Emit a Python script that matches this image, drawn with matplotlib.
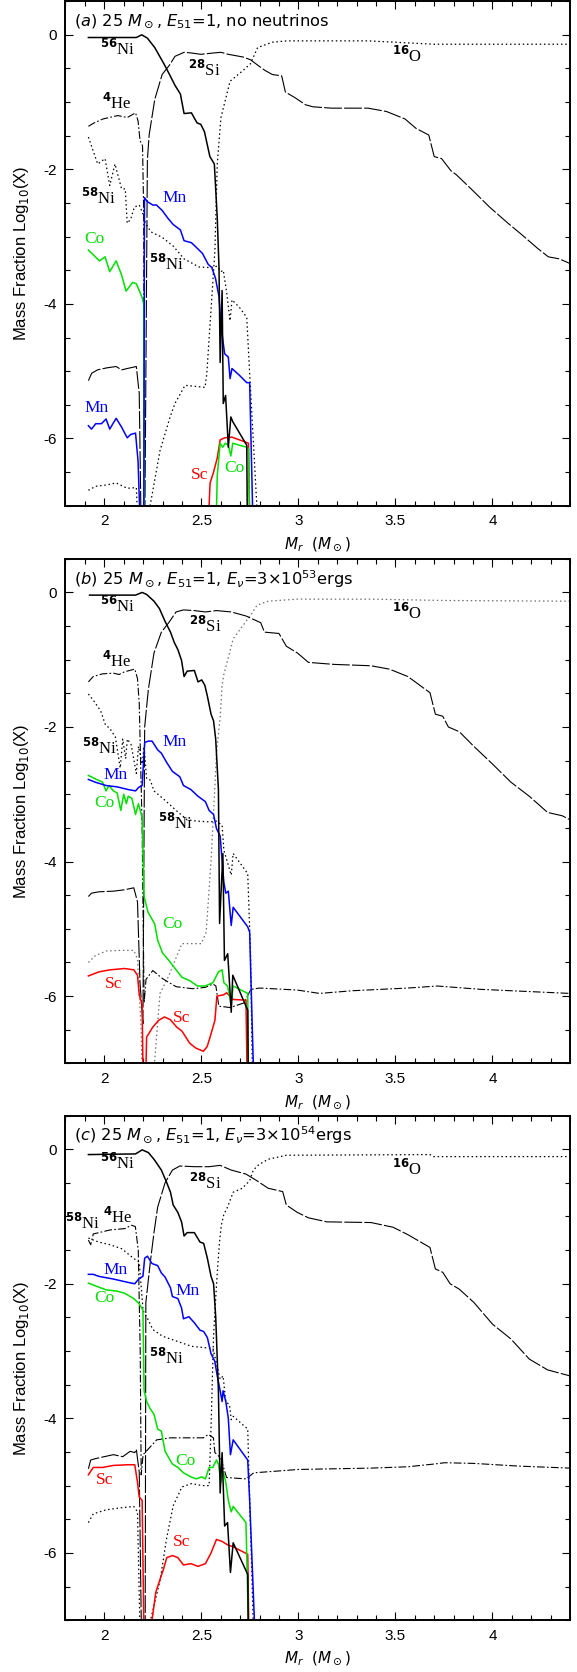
import matplotlib
matplotlib.use('Agg')
import matplotlib.pyplot as plt
from matplotlib.ticker import MultipleLocator, FuncFormatter

plt.rcParams['axes.unicode_minus'] = False
plt.rcParams['mathtext.fontset'] = 'dejavusans'

LOW = -8.0  # below the plotted range

# ---------------- Panel (a): no neutrinos ----------------
a_ni56_x = [1.918, 2.165, 2.193, 2.222, 2.26, 2.307, 2.336, 2.364, 2.392, 2.411, 2.449, 2.478, 2.497, 2.516, 2.544, 2.567, 2.573, 2.582, 2.591, 2.597, 2.607, 2.613, 2.625, 2.639, 2.652, 2.662, 2.734, 2.739]
a_ni56_y = [-0.04, -0.04, 0.0, -0.05, -0.19, -0.43, -0.59, -0.75, -0.88, -1.17, -1.16, -1.31, -1.33, -1.44, -1.81, -1.92, -2.24, -2.72, -3.46, -4.87, -3.8, -5.48, -5.36, -6.13, -5.68, -5.75, -6.1, LOW]
a_si28_x = [1.918, 1.935, 1.965, 2.013, 2.061, 2.089, 2.118, 2.165, 2.18, 2.193, 2.207, 2.222, 2.231, 2.26, 2.298, 2.336, 2.364, 2.411, 2.449, 2.497, 2.563, 2.601, 2.639, 2.715, 2.753, 2.79, 2.828, 2.866, 2.914, 2.933, 2.98, 3.037, 3.075, 3.17, 3.359, 3.454, 3.549, 3.606, 3.672, 3.7, 3.738, 3.786, 3.814, 3.89, 3.985, 4.08, 4.155, 4.231, 4.288, 4.345, 4.4]
a_si28_y = [-5.14, -5.03, -4.98, -4.95, -4.93, -4.98, -4.96, -4.93, -5.33, LOW, LOW, -1.86, -1.49, -0.96, -0.59, -0.45, -0.32, -0.26, -0.27, -0.29, -0.27, -0.26, -0.29, -0.33, -0.37, -0.45, -0.53, -0.59, -0.61, -0.85, -0.93, -1.04, -1.07, -1.09, -1.09, -1.14, -1.25, -1.39, -1.49, -1.81, -1.84, -2.02, -2.08, -2.29, -2.56, -2.8, -2.98, -3.17, -3.3, -3.33, -3.4]
a_o16_x = [1.918, 1.956, 2.013, 2.061, 2.118, 2.165, 2.184, 2.236, 2.287, 2.339, 2.364, 2.416, 2.519, 2.528, 2.553, 2.57, 2.582, 2.601, 2.648, 2.715, 2.753, 2.79, 2.866, 2.942, 3.359, 3.7, 4.4]
a_o16_y = [-6.77, -6.71, -6.69, -6.66, -6.74, -6.73, LOW, -7.0, -6.18, -5.68, -5.48, -5.21, -5.24, -5.04, -3.95, -3.2, -1.92, -1.23, -0.69, -0.53, -0.43, -0.19, -0.11, -0.09, -0.09, -0.14, -0.14]
a_he4_x = [1.918, 1.947, 1.994, 2.07, 2.118, 2.161, 2.174, 2.184, 2.197, 2.203, 2.207]
a_he4_y = [-1.36, -1.31, -1.25, -1.2, -1.23, -1.16, -1.28, -1.57, -1.65, -2.66, LOW]
a_ni58_x = [1.918, 1.966, 2.004, 2.028, 2.055, 2.089, 2.108, 2.118, 2.136, 2.155, 2.18, 2.199, 2.212, 2.241, 2.298, 2.355, 2.411, 2.487, 2.544, 2.582, 2.601, 2.613, 2.63, 2.648, 2.658, 2.696, 2.734, 2.75, 2.786, 2.79]
a_ni58_y = [-1.52, -1.92, -1.84, -2.24, -1.92, -2.29, -2.29, -2.8, -2.74, -2.56, -2.53, -2.66, -2.8, -2.93, -3.01, -3.14, -3.33, -3.45, -3.46, -3.44, -3.52, -3.5, -3.82, -4.25, -3.94, -4.05, -4.2, -5.09, -7.0, LOW]
a_mn_x = [1.918, 1.934, 1.956, 1.985, 2.009, 2.028, 2.061, 2.089, 2.118, 2.136, 2.161, 2.174, 2.193, 2.203, 2.207, 2.222, 2.25, 2.269, 2.298, 2.326, 2.355, 2.392, 2.411, 2.449, 2.478, 2.506, 2.535, 2.554, 2.573, 2.591, 2.601, 2.62, 2.639, 2.648, 2.658, 2.696, 2.734, 2.749, 2.772]
a_mn_y = [-5.81, -5.86, -5.78, -5.78, -5.71, -5.86, -5.7, -5.83, -5.99, -5.94, -5.92, -6.34, LOW, LOW, -2.42, -2.48, -2.53, -2.53, -2.61, -2.72, -2.82, -2.9, -3.06, -3.09, -3.17, -3.25, -3.41, -3.46, -3.62, -3.89, -4.32, -4.74, -4.79, -5.11, -4.96, -5.06, -5.17, -5.17, LOW]
a_co_x = [1.918, 1.947, 1.975, 2.004, 2.028, 2.061, 2.089, 2.112, 2.146, 2.165, 2.193, 2.203, 2.207, 2.571, 2.582, 2.597, 2.61, 2.624, 2.639, 2.652, 2.662, 2.696, 2.734, 2.743, 2.753]
a_co_y = [-3.2, -3.28, -3.36, -3.3, -3.52, -3.36, -3.57, -3.81, -3.68, -3.7, -3.89, -4.0, LOW, LOW, -6.55, -6.07, -6.13, -6.07, -6.1, -6.26, -6.07, -6.1, -6.13, -6.15, LOW]
a_sc_x = [2.525, 2.545, 2.563, 2.582, 2.597, 2.62, 2.658, 2.696, 2.743, 2.753]
a_sc_y = [LOW, -6.66, -6.5, -6.29, -6.02, -5.99, -5.98, -6.02, -6.07, LOW]

# ---------------- Panel (b): E_nu = 3e53 erg ----------------
b_ni56_x = [1.924, 2.161, 2.195, 2.218, 2.256, 2.284, 2.313, 2.341, 2.36, 2.379, 2.398, 2.411, 2.427, 2.464, 2.483, 2.502, 2.518, 2.531, 2.55, 2.563, 2.574, 2.582, 2.588, 2.594, 2.611, 2.619, 2.636, 2.654, 2.662, 2.739, 2.744]
b_ni56_y = [-0.04, -0.04, 0.0, -0.03, -0.13, -0.24, -0.43, -0.59, -0.74, -0.85, -1.01, -1.25, -1.17, -1.16, -1.33, -1.3, -1.38, -1.54, -1.81, -1.91, -2.18, -2.61, -2.93, -4.92, -3.88, -5.47, -5.37, -6.24, -5.69, -6.21, LOW]
b_si28_x = [1.918, 1.934, 1.972, 2.047, 2.104, 2.152, 2.171, 2.184, 2.199, 2.208, 2.227, 2.256, 2.294, 2.332, 2.37, 2.408, 2.464, 2.521, 2.578, 2.654, 2.73, 2.806, 2.825, 2.9, 2.938, 2.995, 3.052, 3.185, 3.374, 3.469, 3.564, 3.678, 3.706, 3.744, 3.773, 3.829, 3.905, 4.0, 4.095, 4.19, 4.284, 4.36, 4.4]
b_si28_y = [-4.52, -4.47, -4.45, -4.44, -4.42, -4.39, -4.6, -5.8, -6.41, -2.0, -1.44, -0.9, -0.59, -0.45, -0.29, -0.26, -0.27, -0.29, -0.27, -0.29, -0.35, -0.45, -0.59, -0.61, -0.8, -0.9, -1.04, -1.07, -1.09, -1.14, -1.25, -1.49, -1.81, -1.84, -2.0, -2.07, -2.29, -2.55, -2.82, -3.03, -3.27, -3.32, -3.38]
b_o16_x = [1.918, 1.953, 2.009, 2.085, 2.152, 2.171, 2.19, 2.199, 2.231, 2.287, 2.33, 2.4, 2.5, 2.525, 2.55, 2.569, 2.578, 2.597, 2.607, 2.616, 2.654, 2.664, 2.73, 2.758, 2.787, 2.844, 2.995, 3.374, 3.754, 4.4]
b_o16_y = [-5.5, -5.4, -5.33, -5.32, -5.32, -5.45, -6.5, LOW, LOW, -5.96, -5.71, -5.22, -5.22, -5.05, -3.99, -2.93, -2.39, -1.86, -1.38, -1.22, -0.8, -0.69, -0.43, -0.32, -0.19, -0.13, -0.1, -0.1, -0.12, -0.13]
b_he4_x = [1.918, 1.943, 1.991, 2.047, 2.076, 2.104, 2.157, 2.171, 2.18, 2.195, 2.205, 2.215, 2.25, 2.3, 2.37, 2.456, 2.52, 2.56, 2.575, 2.59, 2.65, 2.72, 2.755, 2.8, 2.995, 3.109, 3.28, 3.564, 3.716, 3.943, 4.4]
b_he4_y = [-1.33, -1.25, -1.21, -1.2, -1.22, -1.18, -1.14, -1.28, -1.65, -3.5, -6.1, -5.75, -5.62, -5.74, -5.86, -5.89, -5.87, -5.82, -5.85, -6.15, -6.17, -6.1, -5.9, -5.88, -5.91, -5.96, -5.92, -5.88, -5.85, -5.9, -5.96]
b_ni58_x = [1.918, 1.943, 1.981, 2.006, 2.028, 2.057, 2.082, 2.095, 2.11, 2.119, 2.138, 2.165, 2.176, 2.195, 2.205, 2.218, 2.237, 2.256, 2.313, 2.37, 2.427, 2.483, 2.54, 2.578, 2.607, 2.616, 2.654, 2.664, 2.739, 2.753, 2.768]
b_ni58_y = [-1.51, -1.6, -1.76, -1.97, -2.02, -2.15, -2.61, -2.18, -2.47, -2.18, -2.26, -2.69, -2.29, -2.55, -2.29, -2.77, -2.79, -2.95, -3.09, -3.24, -3.38, -3.4, -3.41, -3.4, -3.46, -3.83, -4.2, -3.88, -4.18, -5.32, LOW]
b_mn_x = [1.918, 1.953, 2.009, 2.066, 2.123, 2.161, 2.176, 2.195, 2.208, 2.227, 2.246, 2.275, 2.294, 2.322, 2.351, 2.389, 2.408, 2.446, 2.483, 2.521, 2.54, 2.563, 2.578, 2.597, 2.607, 2.616, 2.626, 2.639, 2.654, 2.664, 2.739, 2.749, 2.777]
b_mn_y = [-2.78, -2.82, -2.87, -2.89, -2.93, -2.95, -2.9, -2.87, -2.23, -2.21, -2.21, -2.34, -2.39, -2.53, -2.66, -2.74, -2.87, -2.93, -3.03, -3.11, -3.24, -3.3, -3.51, -3.62, -3.99, -4.31, -4.47, -4.44, -4.95, -4.68, -4.97, -5.05, LOW]
b_co_x = [1.918, 1.953, 1.991, 2.009, 2.025, 2.047, 2.066, 2.085, 2.1, 2.114, 2.123, 2.142, 2.161, 2.176, 2.195, 2.205, 2.225, 2.26, 2.275, 2.3, 2.33, 2.373, 2.4, 2.44, 2.48, 2.52, 2.56, 2.588, 2.607, 2.616, 2.635, 2.654, 2.664, 2.739, 2.745]
b_co_y = [-2.72, -2.77, -2.82, -2.95, -2.87, -2.95, -2.98, -3.24, -3.0, -3.14, -3.03, -3.06, -3.3, -3.14, -3.35, -4.52, -4.75, -4.93, -5.17, -5.36, -5.46, -5.62, -5.72, -5.77, -5.85, -5.85, -5.8, -5.64, -5.61, -5.8, -5.85, -6.12, -5.85, -5.96, LOW]
b_sc_x = [1.918, 1.972, 2.028, 2.104, 2.152, 2.171, 2.18, 2.195, 2.203, 2.208, 2.218, 2.25, 2.28, 2.31, 2.34, 2.373, 2.4, 2.44, 2.47, 2.51, 2.53, 2.545, 2.57, 2.58, 2.616, 2.63, 2.664, 2.73, 2.74]
b_sc_y = [-5.7, -5.64, -5.61, -5.59, -5.61, -5.69, -5.98, -6.12, LOW, LOW, -6.61, -6.46, -6.36, -6.31, -6.35, -6.46, -6.52, -6.7, -6.77, -6.82, -6.75, -6.61, -6.36, -6.0, -5.98, -5.95, -6.05, -6.06, LOW]

# ---------------- Panel (c): E_nu = 3e54 erg ----------------
c_ni56_x = [1.918, 2.161, 2.195, 2.227, 2.256, 2.294, 2.322, 2.341, 2.355, 2.379, 2.398, 2.411, 2.427, 2.464, 2.493, 2.512, 2.531, 2.55, 2.563, 2.574, 2.588, 2.597, 2.607, 2.62, 2.635, 2.65, 2.664, 2.739, 2.745]
c_ni56_y = [-0.08, -0.07, -0.01, -0.05, -0.15, -0.31, -0.5, -0.64, -0.83, -0.94, -1.08, -1.29, -1.24, -1.24, -1.38, -1.4, -1.62, -1.89, -2.0, -2.49, -3.59, -5.11, -4.51, -5.6, -5.55, -6.29, -5.85, -6.32, LOW]
c_si28_x = [1.918, 1.93, 1.953, 2.047, 2.095, 2.133, 2.157, 2.165, 2.18, 2.195, 2.21, 2.214, 2.237, 2.256, 2.275, 2.313, 2.351, 2.389, 2.464, 2.54, 2.597, 2.654, 2.73, 2.787, 2.844, 2.919, 2.938, 2.995, 3.052, 3.147, 3.374, 3.488, 3.564, 3.678, 3.706, 3.744, 3.782, 3.829, 3.905, 4.0, 4.095, 4.19, 4.284, 4.4]
c_si28_y = [-4.75, -4.62, -4.6, -4.54, -4.57, -4.49, -4.51, -4.46, -4.8, LOW, LOW, -2.28, -1.68, -1.24, -0.86, -0.5, -0.31, -0.25, -0.26, -0.26, -0.24, -0.31, -0.37, -0.47, -0.58, -0.63, -0.83, -0.94, -1.02, -1.08, -1.09, -1.16, -1.27, -1.46, -1.78, -1.83, -2.0, -2.08, -2.28, -2.6, -2.82, -3.12, -3.28, -3.37]
c_o16_x = [1.918, 1.943, 2.009, 2.085, 2.152, 2.171, 2.19, 2.238, 2.288, 2.32, 2.355, 2.4, 2.45, 2.505, 2.54, 2.55, 2.563, 2.574, 2.582, 2.593, 2.603, 2.616, 2.635, 2.664, 2.711, 2.749, 2.768, 2.796, 2.844, 2.938, 3.678, 3.697, 4.4]
c_o16_y = [-5.55, -5.42, -5.36, -5.33, -5.31, -5.39, LOW, -7.0, -6.4, -5.8, -5.3, -5.02, -4.97, -5.0, -5.0, -4.13, -2.77, -2.22, -1.84, -1.4, -1.13, -0.97, -0.86, -0.64, -0.58, -0.47, -0.31, -0.23, -0.15, -0.09, -0.08, -0.11, -0.11]
c_he4_x = [1.918, 1.93, 1.943, 2.03, 2.106, 2.14, 2.16, 2.175, 2.185, 2.19, 2.2, 2.27, 2.34, 2.51, 2.536, 2.562, 2.57, 2.6, 2.63, 2.73, 2.77, 2.91, 3.0, 3.185, 3.374, 3.564, 3.697, 3.754, 3.905, 4.133, 4.4]
c_he4_y = [-1.35, -1.42, -1.26, -1.2, -1.18, -1.13, -1.15, -1.5, -3.0, -4.84, -4.54, -4.32, -4.29, -4.29, -4.24, -4.29, -4.51, -4.59, -4.88, -4.9, -4.81, -4.78, -4.76, -4.75, -4.74, -4.72, -4.68, -4.66, -4.67, -4.71, -4.74]
c_ni58_x = [1.918, 1.97, 2.03, 2.09, 2.15, 2.18, 2.2, 2.22, 2.25, 2.3, 2.37, 2.45, 2.52, 2.56, 2.597, 2.612, 2.626, 2.645, 2.654, 2.664, 2.739, 2.749, 2.777]
c_ni58_y = [-1.32, -1.38, -1.42, -1.48, -1.62, -1.68, -2.4, -2.5, -2.68, -2.78, -2.85, -2.93, -2.95, -2.96, -3.42, -3.37, -3.75, -3.8, -4.02, -3.97, -4.16, -5.2, LOW]
c_mn_x = [1.918, 1.943, 1.972, 2.047, 2.123, 2.157, 2.18, 2.199, 2.208, 2.222, 2.246, 2.275, 2.294, 2.313, 2.341, 2.351, 2.379, 2.398, 2.408, 2.436, 2.464, 2.493, 2.512, 2.531, 2.55, 2.569, 2.582, 2.597, 2.607, 2.612, 2.626, 2.639, 2.65, 2.664, 2.739, 2.749, 2.787]
c_mn_y = [-1.86, -1.86, -1.89, -1.93, -1.98, -2.0, -1.92, -1.89, -1.62, -1.59, -1.7, -1.73, -1.84, -1.9, -2.06, -2.19, -2.22, -2.36, -2.52, -2.49, -2.58, -2.69, -2.71, -2.8, -3.04, -3.15, -3.37, -3.59, -3.75, -3.59, -3.75, -4.0, -4.54, -4.32, -4.62, -5.22, LOW]
c_co_x = [1.918, 1.953, 2.009, 2.066, 2.104, 2.152, 2.18, 2.199, 2.205, 2.218, 2.237, 2.256, 2.275, 2.294, 2.313, 2.351, 2.379, 2.408, 2.446, 2.474, 2.502, 2.521, 2.54, 2.559, 2.578, 2.588, 2.601, 2.612, 2.626, 2.639, 2.654, 2.664, 2.73, 2.75]
c_co_y = [-1.99, -2.03, -2.09, -2.11, -2.14, -2.22, -2.3, -2.39, -3.59, -3.75, -3.86, -3.94, -4.16, -4.19, -4.49, -4.68, -4.73, -4.81, -4.87, -4.9, -4.87, -4.9, -4.73, -4.73, -4.62, -4.68, -4.95, -4.79, -4.95, -5.22, -5.39, -5.31, -5.55, LOW]
c_sc_x = [1.918, 1.943, 1.991, 2.047, 2.123, 2.157, 2.171, 2.18, 2.195, 2.208, 2.24, 2.246, 2.265, 2.284, 2.303, 2.322, 2.351, 2.379, 2.408, 2.446, 2.483, 2.521, 2.55, 2.578, 2.607, 2.635, 2.664, 2.739, 2.749]
c_sc_y = [-4.84, -4.73, -4.73, -4.7, -4.69, -4.69, -4.95, -5.17, -5.22, LOW, LOW, -7.0, -6.59, -6.42, -6.26, -6.07, -6.04, -6.07, -6.18, -6.16, -6.2, -6.16, -6.0, -5.8, -5.83, -5.88, -5.91, -6.02, LOW]

titles = [r'($a$) 25 $M_\odot$, $E_{51}$=1, no neutrinos',
          r'($b$) 25 $M_\odot$, $E_{51}$=1, $E_\nu$=3$\times$10$^{53}$ergs',
          r'($c$) 25 $M_\odot$, $E_{51}$=1, $E_\nu$=3$\times$10$^{54}$ergs']

panels = [
    dict(ni56=(a_ni56_x, a_ni56_y), si28=(a_si28_x, a_si28_y), o16=(a_o16_x, a_o16_y),
         he4=(a_he4_x, a_he4_y), ni58=(a_ni58_x, a_ni58_y), mn=(a_mn_x, a_mn_y),
         co=(a_co_x, a_co_y), sc=(a_sc_x, a_sc_y)),
    dict(ni56=(b_ni56_x, b_ni56_y), si28=(b_si28_x, b_si28_y), o16=(b_o16_x, b_o16_y),
         he4=(b_he4_x, b_he4_y), ni58=(b_ni58_x, b_ni58_y), mn=(b_mn_x, b_mn_y),
         co=(b_co_x, b_co_y), sc=(b_sc_x, b_sc_y)),
    dict(ni56=(c_ni56_x, c_ni56_y), si28=(c_si28_x, c_si28_y), o16=(c_o16_x, c_o16_y),
         he4=(c_he4_x, c_he4_y), ni58=(c_ni58_x, c_ni58_y), mn=(c_mn_x, c_mn_y),
         co=(c_co_x, c_co_y), sc=(c_sc_x, c_sc_y)),
]

BLUE, GREEN, RED = '#0000ff', '#00e000', '#ff0000'
s56, s28, s16, s4, s58 = r'$^{\mathbf{56}}$Ni', r'$^{\mathbf{28}}$Si', r'$^{\mathbf{16}}$O', r'$^{\mathbf{4}}$He', r'$^{\mathbf{58}}$Ni'
labels = [
    [(s56, 2.07, -0.21, 'k'), (s28, 2.515, -0.52, 'k'), (s16, 3.56, -0.31, 'k'), (s4, 2.066, -1.02, 'k'),
     (s58, 1.97, -2.42, 'k'), ('Mn', 2.36, -2.42, BLUE), ('Co', 1.95, -3.03, GREEN), (s58, 2.32, -3.41, 'k'),
     ('Mn', 1.96, -5.54, BLUE), ('Sc', 2.49, -6.54, RED), ('Co', 2.67, -6.44, GREEN)],
    [(s56, 2.07, -0.2, 'k'), (s28, 2.52, -0.5, 'k'), (s16, 3.56, -0.31, 'k'), (s4, 2.066, -1.02, 'k'),
     (s58, 1.975, -2.31, 'k'), ('Mn', 2.36, -2.22, BLUE), ('Mn', 2.057, -2.71, BLUE), ('Co', 2.0, -3.13, GREEN),
     (s58, 2.37, -3.42, 'k'), ('Co', 2.35, -4.93, GREEN), ('Sc', 2.047, -5.82, RED), ('Sc', 2.4, -6.33, RED)],
    [(s56, 2.07, -0.2, 'k'), (s28, 2.52, -0.5, 'k'), (s16, 3.56, -0.3, 'k'), (s58, 1.89, -1.09, 'k'),
     (s4, 2.07, -1.0, 'k'), ('Mn', 2.057, -1.8, BLUE), ('Mn', 2.43, -2.11, BLUE), ('Co', 2.0, -2.21, GREEN),
     (s58, 2.32, -3.1, 'k'), ('Co', 2.42, -4.63, GREEN), ('Sc', 2.0, -4.92, RED), ('Sc', 2.4, -5.84, RED)],
]

fig = plt.figure(figsize=(5.77, 16.72), dpi=100)
bottoms = [0.6975, 0.3640, 0.0310]
H = 0.3018
L, W = 0.1135, 0.8745

for i, (p, b) in enumerate(zip(panels, bottoms)):
    ax = fig.add_axes([L, b, W, H])
    o16_color = '#707070' if i == 1 else 'k'
    ax.plot(*p['o16'], color=o16_color, lw=0.9, ls=(0, (1.2, 2.2)))
    ax.plot(*p['ni58'], color='k', lw=0.9, ls=(0, (1.2, 2.2)))
    ax.plot(*p['he4'], color='k', lw=0.8, ls=(0, (7, 2, 1.5, 2)))
    ax.plot(*p['si28'], color='k', lw=0.8, ls=(0, (16, 2)))
    ax.plot(*p['sc'], color=RED, lw=1.1)
    ax.plot(*p['co'], color=GREEN, lw=1.1)
    ax.plot(*p['mn'], color=BLUE, lw=1.1)
    ax.plot(*p['ni56'], color='k', lw=1.1)

    ax.set_xlim(1.8, 4.4)
    ax.set_ylim(-7, 0.5)
    ax.xaxis.set_major_locator(MultipleLocator(0.5))
    ax.xaxis.set_minor_locator(MultipleLocator(0.1))
    ax.yaxis.set_major_locator(MultipleLocator(2))
    ax.yaxis.set_minor_locator(MultipleLocator(0.5))
    ax.xaxis.set_major_formatter(FuncFormatter(lambda v, pos: '%g' % v))
    ax.yaxis.set_major_formatter(FuncFormatter(lambda v, pos: '%g' % v))
    ax.tick_params(which='both', direction='in', top=True, right=True, width=0.8)
    ax.tick_params(which='major', length=6, labelsize=11, pad=6)
    ax.tick_params(which='minor', length=3.5)
    for sp in ax.spines.values():
        sp.set_linewidth(1.4)
    for lab in ax.get_xticklabels() + ax.get_yticklabels():
        lab.set_fontfamily('Liberation Sans')

    ax.set_xlabel(r'$M_r$  ($M_\odot$)', fontsize=11, labelpad=5)
    ax.set_ylabel(r'Mass Fraction Log$_{10}$(X)', fontsize=12, family='Liberation Sans')
    ax.yaxis.set_label_coords(-0.068, 0.5)

    ax.text(1.843, 0.2, titles[i], fontsize=11.7, ha='left', va='center')
    for txt, x, y, c in labels[i]:
        fs = 12 if txt.startswith('$') else 12.5
        ax.text(x, y, txt, color=c, fontsize=fs, family='Liberation Serif', ha='center', va='center')

fig.savefig('out.png', dpi=100)
